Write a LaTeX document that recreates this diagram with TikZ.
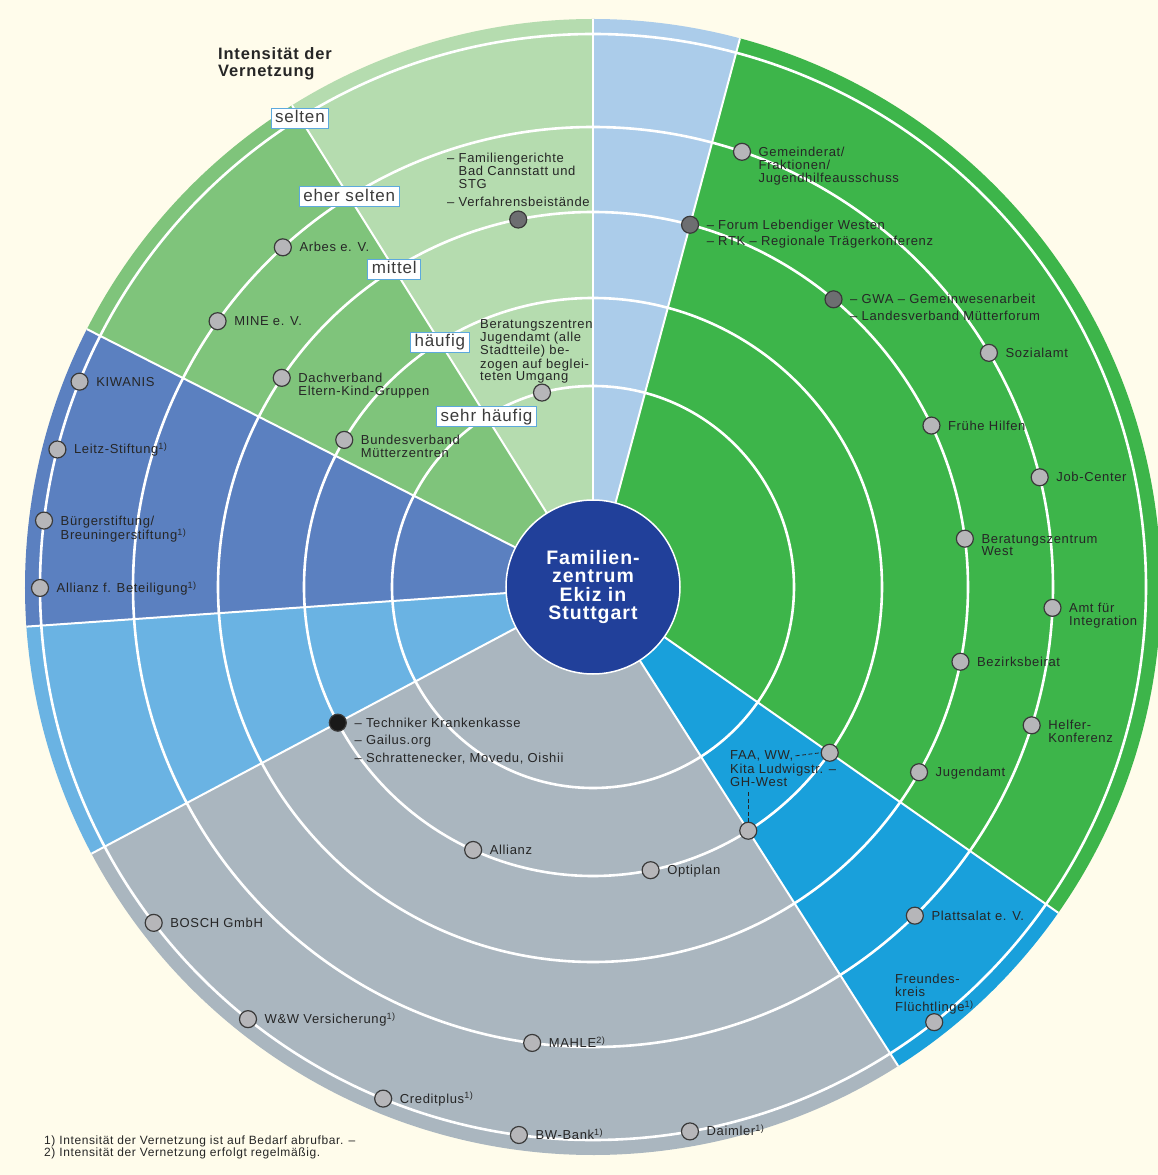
\documentclass[tikz,border=0pt]{standalone}
\usepackage{fontspec}
\setmainfont{Liberation Sans}[LetterSpace=5]
\definecolor{page}{HTML}{FFFCEB}
\definecolor{secGreen}{HTML}{3DB54A}
\definecolor{secTopBlue}{HTML}{ABCCEA}
\definecolor{secPaleGreen}{HTML}{B5DCAF}
\definecolor{secMidGreen}{HTML}{7FC47B}
\definecolor{secSteel}{HTML}{5B80C0}
\definecolor{secSky}{HTML}{6AB3E3}
\definecolor{secGrey}{HTML}{AAB6BF}
\definecolor{secCyan}{HTML}{19A0DB}
\definecolor{hubNavy}{HTML}{21409A}
\definecolor{dotFill}{HTML}{B6B6B9}
\definecolor{dotDark}{HTML}{6D6E71}
\definecolor{dotEdge}{HTML}{3A3A3A}
\definecolor{ink}{HTML}{262626}
\definecolor{boxEdge}{HTML}{5DA9DD}
% ring radii (1 unit = 1pt)
\def\rA{201}\def\rB{289}\def\rC{375}\def\rD{460}\def\rE{553}\def\rOut{568}
\newcommand\lblfont{\fontsize{13}{12.5}\selectfont}
\newcommand\mlines[1]{\begin{tabular}[t]{@{}l@{}}#1\end{tabular}}
\newcommand\supnote[1]{\textsuperscript{#1)}}
\newcommand\fillsector[3]{\fill[#1] (0,0) -- (#2:\rOut) arc[start angle=#2, end angle=#3, radius=\rOut] -- cycle;}
\newcommand\orglabel[2]{\node[lbl] (l-#1) at ([shift={(16.5,-4.5)}]#1.center) {#2};}
\begin{document}
\begin{tikzpicture}[x=1pt,y=1pt,
  ring/.style={draw=white, line width=2.6pt},
  spoke/.style={draw=white, line width=2pt},
  org/.style={circle, minimum size=17pt, inner sep=0pt, fill=dotFill, draw=dotEdge, line width=1.2pt},
  orgdark/.style={org, fill=dotDark},
  orgblack/.style={org, fill=black!90},
  lbl/.style={anchor=base west, inner sep=0pt, font=\lblfont, text=ink},
  levelbox/.style={fill=white, draw=boxEdge, line width=0.8pt, inner xsep=4pt, inner ysep=2pt,
    text height=12.5pt, text depth=3.5pt, font=\fontsize{17}{17}\selectfont, text=ink!90},
  hub/.style={circle, minimum size=174pt, inner sep=0pt, fill=hubNavy, draw=white, line width=1.5pt,
    text=white, align=center, font=\fontsize{19.5}{18.5}\selectfont\bfseries},
  leader/.style={draw=ink, line width=0.8pt, dash pattern=on 4pt off 2.5pt}]
\useasboundingbox (-593,-588) rectangle (565,587);
\fill[page] (-593,-588) rectangle (565,587);

% sectors
\fillsector{secGreen}{-35}{75}
\fillsector{secTopBlue}{75}{90}
\fillsector{secPaleGreen}{90}{122}
\fillsector{secMidGreen}{122}{153}
\fillsector{secSteel}{153}{184}
\fillsector{secSky}{184}{208}
\fillsector{secGrey}{208}{302.5}
\fillsector{secCyan}{302.5}{325}

% intensity rings
\foreach \r in {\rA,\rB,\rC,\rD,\rE} \draw[ring] (0,0) circle[radius=\r];
% sector borders
\foreach \a in {-35,75,90,122,153,184,208,302.5} \draw[spoke] (\a:80) -- (\a:\rOut);

% centre
\node[hub] (hub) at (0,0) {Familien-\\zentrum\\Ekiz in\\Stuttgart};

% level markers
\node[levelbox] (lv5) at (122:\rE) {selten};
\node[levelbox] (lv4) at (122:\rD) {eher selten};
\node[levelbox] (lv3) at (122:\rC) {mittel};
\node[levelbox] (lv2) at (122:\rB) {häufig};
\node[levelbox] (lv1) at (122:\rA) {sehr häufig};

\node[anchor=base west, inner sep=0pt, text=ink, font=\fontsize{16.5}{17}\selectfont\bfseries] (title)
  at (-375,527) {\mlines{Intensität der\\Vernetzung}};

% partners
\node[orgdark] (verfahren) at (101.5:\rC) {};
\node[org] (beratung) at (104.7:\rA) {};
\node[org] (arbes) at (132.4:\rD) {};
\node[org] (mine) at (144.7:\rD) {};
\node[org] (dachverband) at (146.1:\rC) {};
\node[org] (bundesverband) at (149.4:\rB) {};
\node[org] (kiwanis) at (158.2:\rE) {};
\node[org] (leitz) at (165.6:\rE) {};
\node[org] (buerger) at (173.1:\rE) {};
\node[org] (allianzfb) at (180.1:\rE) {};
\node[orgblack] (techniker) at (208:\rB) {};
\node[org] (allianz) at (245.5:\rB) {};
\node[org] (optiplan) at (281.5:\rB) {};
\node[org] (bosch) at (217.4:\rE) {};
\node[org] (ww) at (231.4:\rE) {};
\node[org] (mahle) at (262.4:\rD) {};
\node[org] (creditplus) at (247.7:\rE) {};
\node[org] (bwbank) at (262.3:\rE) {};
\node[org] (daimler) at (280.1:\rE) {};
\node[org] (faaA) at (-35:\rB) {};
\node[org] (faaB) at (-57.5:\rB) {};
\node[org] (plattsalat) at (-45.6:\rD) {};
\node[org] (freundes) at (-51.9:\rE) {};
\node[org] (gemeinderat) at (71.1:\rD) {};
\node[orgdark] (forum) at (75:\rC) {};
\node[orgdark] (gwa) at (50.1:\rC) {};
\node[org] (sozialamt) at (30.6:\rD) {};
\node[org] (fruehe) at (25.5:\rC) {};
\node[org] (jobcenter) at (13.8:\rD) {};
\node[org] (bzwest) at (7.4:\rC) {};
\node[org] (amt) at (-2.6:\rD) {};
\node[org] (bezirk) at (-11.5:\rC) {};
\node[org] (helfer) at (-17.5:\rD) {};
\node[org] (jugendamt) at (-29.6:\rC) {};

% labels
\node[lbl] (l-verfahren) at (-146,424.5) {\begin{tabular}[t]{@{}l@{\ }l@{}}–&Familiengerichte\\&Bad Cannstatt und\\&STG\\[5pt]–&Verfahrensbeistände\end{tabular}};
\node[lbl] (l-beratung) at (-113,258.5) {\mlines{Beratungszentren\\Jugendamt (alle\\Stadtteile) be-\\zogen auf beglei-\\teten Umgang}};
\orglabel{arbes}{Arbes e. V.}
\orglabel{mine}{MINE e. V.}
\orglabel{dachverband}{\mlines{Dachverband\\Eltern-Kind-Gruppen}}
\orglabel{bundesverband}{\mlines{Bundesverband\\Mütterzentren}}
\orglabel{kiwanis}{KIWANIS}
\orglabel{leitz}{Leitz-Stiftung\supnote{1}}
\orglabel{buerger}{\mlines{Bürgerstiftung/\\Breuningerstiftung\supnote{1}}}
\orglabel{allianzfb}{Allianz f. Beteiligung\supnote{1}}
\orglabel{techniker}{\mlines{– Techniker Krankenkasse\\[4.5pt]– Gailus.org\\[4.5pt]– Schrattenecker, Movedu, Oishii}}
\orglabel{allianz}{Allianz}
\orglabel{optiplan}{Optiplan}
\orglabel{bosch}{BOSCH GmbH}
\orglabel{ww}{W\&W Versicherung\supnote{1}}
\orglabel{mahle}{MAHLE\supnote{2}}
\orglabel{creditplus}{Creditplus\supnote{1}}
\orglabel{bwbank}{BW-Bank\supnote{1}}
\orglabel{daimler}{Daimler\supnote{1}}
\orglabel{plattsalat}{Plattsalat e. V.}
\node[lbl] (l-freundes) at (302,-396.5) {\mlines{Freundes-\\kreis\\Flüchtlinge\supnote{1}}};
\orglabel{gemeinderat}{\mlines{Gemeinderat/\\Fraktionen/\\Jugendhilfeausschuss}}
\orglabel{forum}{\mlines{– Forum Lebendiger Westen\\[3.5pt]– RTK – Regionale Trägerkonferenz}}
\orglabel{gwa}{\mlines{– GWA – Gemeinwesenarbeit\\[3.5pt]– Landesverband Mütterforum}}
\orglabel{sozialamt}{Sozialamt}
\orglabel{fruehe}{Frühe Hilfen}
\orglabel{jobcenter}{Job-Center}
\orglabel{bzwest}{\mlines{Beratungszentrum\\West}}
\orglabel{amt}{\mlines{Amt für\\Integration}}
\orglabel{bezirk}{Bezirksbeirat}
\orglabel{helfer}{\mlines{Helfer-\\Konferenz}}
\orglabel{jugendamt}{Jugendamt}

% shared entry of the two FAA dots
\node[lbl] (l-faa1) at (137,-172.5) {FAA, WW,};
\node[lbl] (l-faa2) at (137,-186.5) {\mlines{Kita Ludwigstr. –\\GH-West}};
\draw[leader] ([xshift=2pt]l-faa1.east) -- (faaA.west);
\draw[leader] ([yshift=-2pt]l-faa2.south -| faaB) -- (faaB.north);

% footnotes
\node[anchor=base west, inner sep=0pt, text=ink, font=\fontsize{12}{12}\selectfont] (notes) at (-549,-557)
  {\mlines{1) Intensität der Vernetzung ist auf Bedarf abrufbar. –\\2) Intensität der Vernetzung erfolgt regelmäßig.}};
\end{tikzpicture}
\end{document}
